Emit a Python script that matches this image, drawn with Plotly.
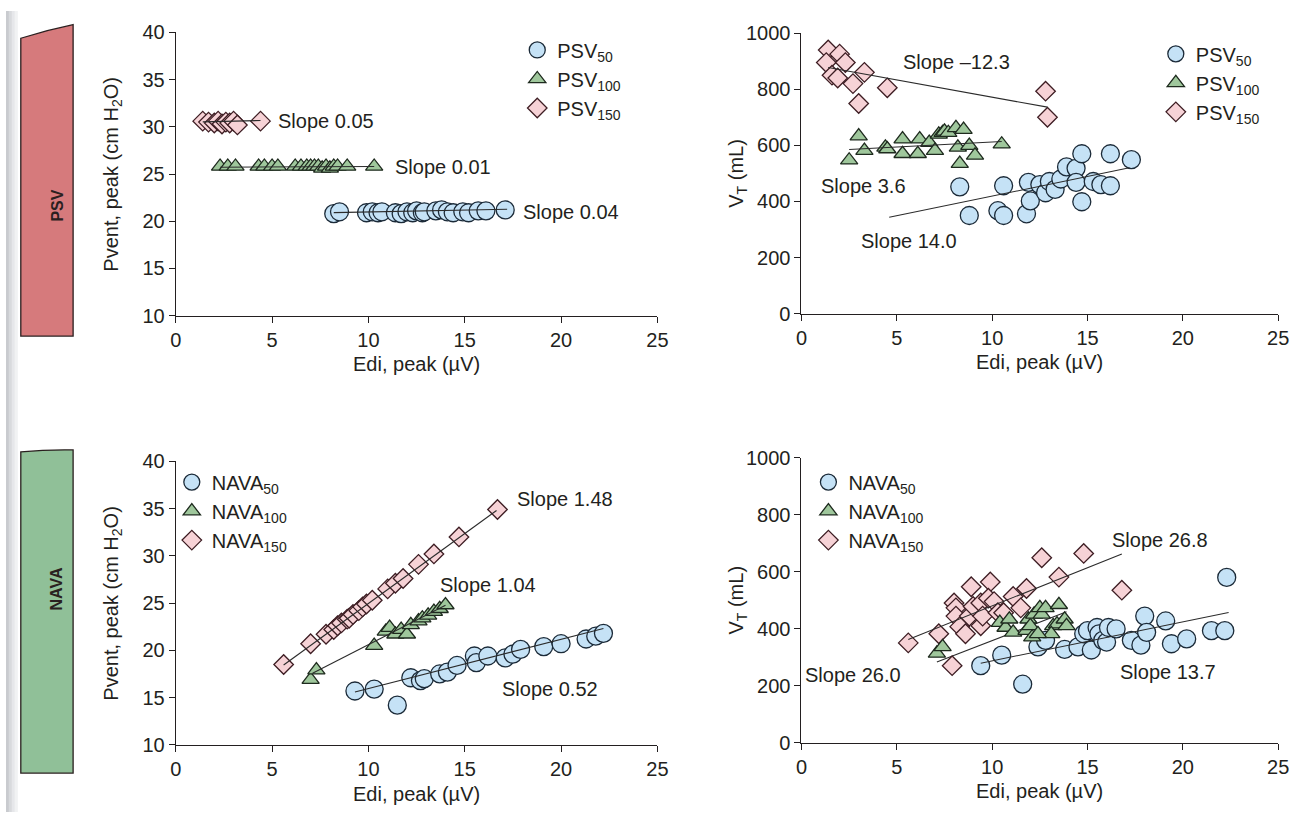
import plotly.graph_objects as go

W, H = 1304, 823

# ---------------- PSV: Pvent, peak vs Edi, peak ----------------
psv50_edi_p = [8.2, 8.5, 9.9, 10.2, 10.5, 10.7, 11.4, 11.7, 12.0, 12.3, 12.5, 12.8, 12.9,
               13.5, 13.8, 14.1, 14.4, 14.9, 15.2, 15.7, 16.1, 17.1]
psv50_pvent = [20.8, 21.0, 20.9, 21.0, 20.9, 21.0, 20.9, 20.8, 21.0, 20.9, 21.1, 20.9, 21.0,
               21.1, 21.2, 21.0, 20.9, 21.0, 20.9, 21.1, 21.1, 21.2]
psv100_edi_p = [2.3, 2.7, 3.1, 4.3, 4.6, 5.0, 5.3, 6.2, 6.5, 6.8, 7.0, 7.2, 7.4, 7.6, 7.8,
                8.0, 8.2, 8.4, 8.9, 10.3]
psv100_pvent = [25.8, 25.8, 25.8, 25.8, 25.8, 25.8, 25.8, 25.8, 25.8, 25.8, 25.8, 25.8, 25.8,
                25.6, 25.8, 25.6, 25.8, 25.8, 25.8, 25.8]
psv150_edi_p = [1.4, 1.7, 2.0, 2.2, 2.4, 2.6, 2.8, 3.0, 3.2, 4.4]
psv150_pvent = [30.6, 30.5, 30.4, 30.6, 30.3, 30.5, 30.4, 30.6, 30.2, 30.6]

# ---------------- PSV: VT vs Edi, peak ----------------
psv50_edi_v = [8.3, 8.8, 10.3, 10.6, 10.6, 11.8, 12.0, 11.9, 12.5, 12.8, 13.0, 13.3, 13.6,
               13.9, 14.4, 14.7, 14.4, 14.7, 15.3, 15.7, 16.2, 16.2, 17.3]
psv50_vt = [452, 350, 367, 350, 456, 356, 402, 468, 460, 431, 471, 443, 480,
            523, 518, 570, 468, 399, 471, 460, 456, 570, 549]
psv100_edi_v = [3.0, 3.3, 2.5, 4.4, 4.5, 5.3, 5.3, 6.2, 6.1, 6.7, 7.0, 7.2, 7.4, 7.5, 7.7,
                8.1, 8.2, 8.5, 8.3, 8.8, 9.1, 10.5]
psv100_vt = [633, 581, 547, 593, 587, 622, 570, 622, 570, 610, 581, 639, 645, 650, 645,
             662, 593, 656, 535, 599, 564, 604]
psv150_edi_v = [1.4, 2.0, 1.3, 2.3, 1.6, 1.9, 3.3, 2.7, 4.5, 3.0, 12.8, 12.9]
psv150_vt = [940, 925, 895, 895, 850, 840, 860, 820, 805, 749, 793, 700]

# ---------------- NAVA: Pvent, peak vs Edi, peak ----------------
nava50_edi_p = [9.3, 10.3, 11.5, 12.2, 12.7, 12.9, 13.7, 14.1, 14.6, 15.5, 15.6, 16.2, 17.1,
                17.5, 17.9, 19.1, 20.0, 21.3, 21.8, 22.2]
nava50_pvent = [15.7, 15.9, 14.2, 17.1, 16.8, 17.0, 17.5, 17.7, 18.4, 19.4, 18.7, 19.4, 19.2,
                19.6, 20.1, 20.4, 20.7, 21.2, 21.5, 21.8]
nava100_edi_p = [7.0, 7.3, 10.3, 10.9, 11.1, 11.4, 11.7, 12.0, 12.2, 12.6, 12.8, 13.1, 13.4,
                 13.7, 14.0]
nava100_pvent = [16.9, 17.9, 20.5, 22.0, 22.4, 21.7, 22.2, 21.7, 22.7, 23.1, 23.4, 23.7, 24.1,
                 24.4, 24.8]
nava150_edi_p = [5.6, 7.0, 7.8, 8.2, 8.4, 8.6, 8.9, 9.0, 9.2, 9.5, 9.7, 9.9, 10.2, 11.0,
                 11.4, 11.8, 12.6, 13.4, 14.7, 16.7]
nava150_pvent = [18.5, 20.7, 21.7, 22.2, 22.6, 22.9, 23.3, 23.4, 23.8, 24.2, 24.6, 24.9, 25.3,
                 26.5, 27.1, 27.6, 29.1, 30.2, 32.0, 34.9]

# ---------------- NAVA: VT vs Edi, peak ----------------
nava50_edi_v = [9.4, 10.5, 11.6, 12.4, 12.8, 13.8, 14.5, 14.8, 15.0, 15.2, 15.5, 15.6, 15.8,
                16.0, 16.1, 16.5, 17.3, 17.8, 18.0, 18.1, 19.1, 19.4, 20.2, 21.5, 22.2, 22.3]
nava50_vt = [270, 307, 205, 336, 359, 327, 336, 382, 393, 325, 404, 382, 359,
             353, 404, 399, 359, 342, 444, 387, 427, 347, 364, 393, 393, 580]
nava100_edi_v = [7.1, 7.4, 10.4, 10.7, 10.9, 11.1, 11.8, 11.9, 12.0, 12.1, 12.2, 12.5, 12.6,
                 12.8, 13.2, 13.5, 13.4, 13.8, 13.9, 13.1, 12.4]
nava100_vt = [313, 336, 421, 404, 433, 387, 393, 433, 410, 370, 450, 473, 450,
              473, 410, 484, 416, 433, 410, 382, 382]
nava150_edi_v = [5.6, 7.2, 7.9, 8.0, 8.1, 8.1, 8.3, 8.6, 8.9, 8.8, 9.0, 9.4, 9.4, 9.5,
                 9.9, 9.8, 10.1, 10.3, 10.6, 11.1, 11.5, 11.8, 12.6, 13.5, 14.8, 16.8]
nava150_vt = [350, 382, 270, 490, 473, 444, 407, 382, 547, 444, 478, 490, 410, 444,
              564, 507, 495, 456, 456, 513, 473, 541, 649, 581, 664, 535]

# ---------------- fitted lines: slope, intercept, Edi span ----------------
fit_slopes = {
    "psv_p": [0.04, 0.01, 0.05],
    "psv_v": [14.0, 3.6, -12.3],
    "nava_p": [0.52, 1.04, 1.48],
    "nava_v": [13.7, 26.0, 26.8],
}
fit_intercepts = {
    "psv_p": [20.58, 25.7, 30.45],
    "psv_v": [279, 576, 894.7],
    "nava_p": [10.76, 10.2, 10.16],
    "nava_v": [150, 98, 212],
}
fit_spans = {
    "psv_p": [(8.2, 17.2), (2.3, 10.3), (1.4, 4.4)],
    "psv_v": [(4.6, 17.2), (2.5, 10.5), (1.4, 12.9)],
    "nava_p": [(9.3, 22.2), (7.1, 14.0), (5.6, 16.65)],
    "nava_v": [(9.4, 22.4), (7.1, 13.9), (5.6, 16.8)],
}
# slope label placement (Edi, y) for each line
slope_label_pos = {
    "psv_p": [(17.9, 21.0), (11.3, 25.7), (5.2, 30.6)],
    "psv_v": [(3.0, 260), (0.9, 455), (5.2, 898)],
    "nava_p": [(16.85, 15.9), (13.6, 26.9), (17.6, 36.0)],
    "nava_v": [(16.6, 248), (0.1, 238), (16.2, 712)],
}

# ---------------- styling ----------------
FONT = "Liberation Sans, Arial, sans-serif"
FS = 20
TXT = "#231f20"
STYLE = {
    50: dict(symbol="circle", size=18, fill="#c5e2f6", edge="#1b2a38"),
    100: dict(symbol="triangle-up", size=15, fill="#9fc79c", edge="#1e2a1e"),
    150: dict(symbol="diamond", size=15, fill="#f6d2d6", edge="#3d1d23"),
}

# panel geometry in pixels: (left, right, top, bottom)
panel_px = {
    "psv_p": (172, 660, 22, 313),
    "psv_v": (806, 1289, 22.7, 311),
    "nava_p": (172, 660, 462.7, 754),
    "nava_v": (806, 1289, 459, 751.7),
}
axis_ids = {"psv_p": "", "psv_v": "2", "nava_p": "3", "nava_v": "4"}

panels = {
    "psv_p": {"mode": "PSV",
              "series": [(50, psv50_edi_p, psv50_pvent), (100, psv100_edi_p, psv100_pvent),
                         (150, psv150_edi_p, psv150_pvent)],
              "yrange": [10, 40], "ytick": 5},
    "psv_v": {"mode": "PSV",
              "series": [(50, psv50_edi_v, psv50_vt), (100, psv100_edi_v, psv100_vt),
                         (150, psv150_edi_v, psv150_vt)],
              "yrange": [0, 1000], "ytick": 200},
    "nava_p": {"mode": "NAVA",
               "series": [(50, nava50_edi_p, nava50_pvent), (100, nava100_edi_p, nava100_pvent),
                          (150, nava150_edi_p, nava150_pvent)],
               "yrange": [10, 40], "ytick": 5},
    "nava_v": {"mode": "NAVA",
               "series": [(50, nava50_edi_v, nava50_vt), (100, nava100_edi_v, nava100_vt),
                          (150, nava150_edi_v, nava150_vt)],
               "yrange": [0, 1000], "ytick": 200},
}

# legend placement (left px of box, top px of box)
legend_px = {
    "psv_p": (518, 20),
    "psv_v": (1165, 24),
    "nava_p": (168, 464),
    "nava_v": (813, 464),
}

fig = go.Figure()
layout = dict(
    width=W, height=H, margin=dict(l=0, r=0, t=0, b=0),
    paper_bgcolor="white", plot_bgcolor="white",
    font=dict(family=FONT, size=FS, color=TXT),
    annotations=[], shapes=[],
)

for k, (key, pan) in enumerate(panels.items()):
    sid = axis_ids[key]
    xa, ya = "x" + sid, "y" + sid
    leg = "legend" if k == 0 else f"legend{k + 1}"
    l, r, t, b = panel_px[key]

    axis_common = dict(
        showline=True, linecolor="#231f20", linewidth=1.2,
        ticks="outside", ticklen=6, tickwidth=1.2, tickcolor="#231f20",
        showgrid=False, zeroline=False, fixedrange=True,
        tickfont=dict(size=FS, color=TXT, family=FONT),
    )
    layout["xaxis" + sid] = dict(domain=[l / W, r / W], range=[0, 25], dtick=5,
                                 anchor=ya, **axis_common)
    layout["yaxis" + sid] = dict(domain=[1 - b / H, 1 - t / H], range=pan["yrange"],
                                 dtick=pan["ytick"], anchor=xa, **axis_common)

    lx, ly = legend_px[key]
    layout[leg] = dict(
        x=lx / W, y=1 - ly / H, xanchor="left", yanchor="top",
        bgcolor="rgba(0,0,0,0)", borderwidth=0, itemsizing="trace",
        font=dict(size=FS, color=TXT, family=FONT), tracegroupgap=0,
        traceorder="normal",
    )

    mode = pan["mode"]
    # the middle-dose regression line sits beneath the markers in the NAVA VT panel
    order_under = [1] if key == "nava_v" else []
    for i in order_under:
        m, c0 = fit_slopes[key][i], fit_intercepts[key][i]
        x0, x1 = fit_spans[key][i]
        fig.add_trace(go.Scatter(x=[x0, x1], y=[c0 + m * x0, c0 + m * x1], mode="lines",
                                 line=dict(color="#2b2b2b", width=1.1), showlegend=False,
                                 xaxis=xa, yaxis=ya, hoverinfo="skip"))

    draw_order = [2, 0, 1] if key == "nava_v" else [0, 1, 2]
    for idx in draw_order:
        level, xs, ys = pan["series"][idx]
        st = STYLE[level]
        fig.add_trace(go.Scatter(
            x=xs, y=ys, mode="markers", name=f"{mode}<sub>{level}</sub>",
            marker=dict(symbol=st["symbol"], size=st["size"], color=st["fill"],
                        line=dict(color=st["edge"], width=1.3)),
            xaxis=xa, yaxis=ya, legend=leg, legendrank=idx + 1, cliponaxis=False,
        ))

    for i in range(3):
        m, c0 = fit_slopes[key][i], fit_intercepts[key][i]
        if i not in order_under:
            x0, x1 = fit_spans[key][i]
            fig.add_trace(go.Scatter(x=[x0, x1], y=[c0 + m * x0, c0 + m * x1], mode="lines",
                                     line=dict(color="#2b2b2b", width=1.1), showlegend=False,
                                     xaxis=xa, yaxis=ya, hoverinfo="skip", cliponaxis=False))
        tx, ty = slope_label_pos[key][i]
        label = f"Slope {m:.2f}" if key.endswith("_p") else f"Slope {m:.1f}"
        label = label.replace("-", "\u2013")
        layout["annotations"].append(dict(
            x=tx, y=ty, xref=xa, yref=ya, text=label, showarrow=False,
            xanchor="left", yanchor="middle", font=dict(size=FS, color=TXT, family=FONT),
        ))

    # axis titles
    layout["annotations"].append(dict(
        x=(l + r) / 2 / W, y=1 - (b + 50) / H, xref="paper", yref="paper",
        text="Edi, peak (\u00b5V)", showarrow=False, xanchor="center", yanchor="middle",
        font=dict(size=FS, color=TXT, family=FONT),
    ))
    ytitle = "Pvent, peak (cm H<sub>2</sub>O)" if key.endswith("_p") else "V<sub>T</sub> (mL)"
    layout["annotations"].append(dict(
        x=(l - 65) / W, y=1 - (t + b) / 2 / H, xref="paper", yref="paper",
        text=ytitle, textangle=-90, showarrow=False, xanchor="center", yanchor="middle",
        font=dict(size=FS, color=TXT, family=FONT),
    ))

# mode side tabs
tabs = [
    ("PSV", "#d67a7c", 15, 68, 28, 14, 334),
    ("NAVA", "#90c098", 15, 68, 453, 451, 783),
]
for name, col, x0, x1, ytl, ytr, yb in tabs:
    px = lambda v: v / W
    py = lambda v: 1 - v / H
    path = (f"M {px(x0)} {py(yb)} L {px(x0)} {py(ytl)} "
            f"Q {px((x0 + x1) / 2)} {py((ytl + ytr) / 2 - 1.5)} {px(x1)} {py(ytr)} "
            f"L {px(x1)} {py(yb)} Z")
    layout["shapes"].append(dict(type="path", path=path, xref="paper", yref="paper",
                                 fillcolor=col, line=dict(color="#2a1f1f", width=1.3),
                                 layer="below"))
    layout["annotations"].append(dict(
        x=(x0 + x1) / 2 / W, y=1 - ((ytl + yb) / 2) / H, xref="paper", yref="paper",
        text=f"<b>{name}</b>", textangle=-90, showarrow=False,
        font=dict(size=16, color="#2a2020", family=FONT),
    ))

# soft shading along the left page edge
for i, g in enumerate(["#c9cbcf", "#d8dadd", "#e6e7ea", "#f1f2f3"]):
    layout["shapes"].append(dict(type="rect", xref="paper", yref="paper",
                                 x0=(i * 3) / W, x1=(i * 3 + 3) / W, y0=0, y1=1,
                                 fillcolor=g, line=dict(width=0), layer="below"))

fig.update_layout(**layout)
fig.write_html("out.html")
